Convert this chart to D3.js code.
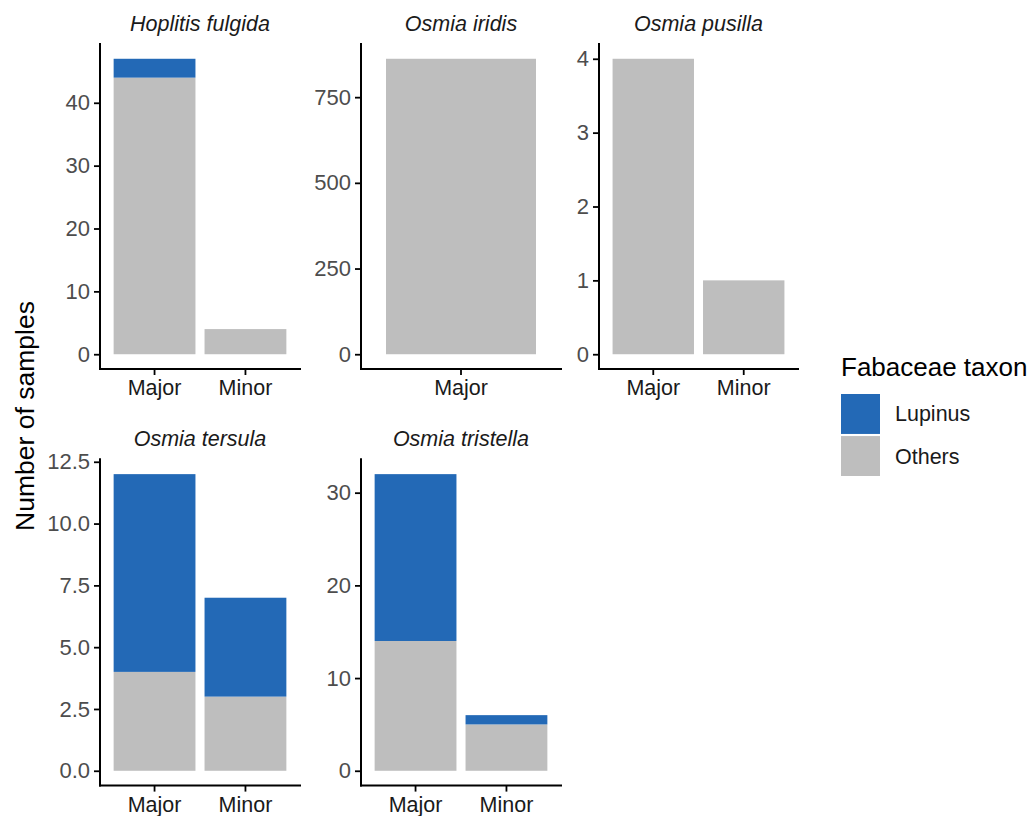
<!DOCTYPE html>
<html>
<head>
<meta charset="utf-8">
<script src="https://cdn.jsdelivr.net/npm/d3@7"></script>
<style>
  html, body { margin: 0; padding: 0; background: #ffffff; }
  svg { display: block; font-family: "Liberation Sans", Arial, Helvetica, sans-serif; }
</style>
</head>
<body>
<svg id="chart" width="1034" height="816"></svg>
<script>
// Bee species shown as facets, and the pollen-sample groups on each x axis
const species = ["Hoplitis fulgida", "Osmia iridis", "Osmia pusilla", "Osmia tersula", "Osmia tristella"];
const groups = [["Major", "Minor"], ["Major"], ["Major", "Minor"], ["Major", "Minor"], ["Major", "Minor"]];

// Number of samples per group, split by Fabaceae taxon
const othersCounts  = [[44, 4], [862], [4, 1], [4, 3], [14, 5]];
const lupinusCounts = [[3, 0], [0],   [0, 0], [8, 4], [18, 1]];

// Tick values on each facet's own y axis
const yTicks = [
  [0, 10, 20, 30, 40],
  [0, 250, 500, 750],
  [0, 1, 2, 3, 4],
  [0, 2.5, 5, 7.5, 10, 12.5],
  [0, 10, 20, 30]
];
const yTickFormats = ["d", "d", "d", ".1f", "d"];

const taxa = ["Lupinus", "Others"];
const taxonColors = ["#2369b6", "#bebebe"];

// Panel frames (plot area of each facet)
const cols = [[100, 300], [361, 561], [599, 798]];
const rows = [[44, 369], [459.3, 785.6]];

const svg = d3.select("#chart");
const color = d3.scaleOrdinal().domain(taxa).range(taxonColors);

species.forEach((name, i) => {
  const [x0, x1] = cols[i % 3];
  const [y0, y1] = rows[Math.floor(i / 3)];
  const cats = groups[i];

  const stacks = cats.map((g, j) => ({
    group: g,
    Others: othersCounts[i][j],
    Lupinus: lupinusCounts[i][j]
  }));
  const maxTotal = d3.max(stacks, d => d.Others + d.Lupinus);

  const x = d3.scaleBand().domain(cats).range([x0, x1])
    .paddingInner(0.1).paddingOuter(0.15);
  const y = d3.scaleLinear().domain([-0.05 * maxTotal, 1.05 * maxTotal]).range([y1, y0]);

  const g = svg.append("g");

  // Stacked bars: Others at the bottom, Lupinus on top
  const series = d3.stack().keys(["Others", "Lupinus"])(stacks);
  series.forEach(s => {
    g.append("g").attr("fill", color(s.key))
      .selectAll("rect").data(s).join("rect")
      .attr("x", d => x(d.data.group))
      .attr("width", x.bandwidth())
      .attr("y", d => y(d[1]))
      .attr("height", d => Math.max(0, y(d[0]) - y(d[1])));
  });

  // y axis
  const yAxis = d3.axisLeft(y).tickValues(yTicks[i]).tickFormat(d3.format(yTickFormats[i]))
    .tickSize(6).tickSizeOuter(0).tickPadding(4);
  const ya = g.append("g").attr("transform", `translate(${x0},0)`).call(yAxis);
  ya.select(".domain").attr("d", `M0,${y1}V${y0}`).attr("stroke", "#000").attr("stroke-width", 2)
    .attr("stroke-linecap", "square");
  ya.selectAll(".tick line").attr("stroke", "#000").attr("stroke-width", 1.8);
  ya.selectAll(".tick text").attr("fill", "#4d4d4d").style("font-size", "22px")
    .style("font-family", "Liberation Sans, Arial, sans-serif");

  // x axis
  const xAxis = d3.axisBottom(x).tickSize(6).tickSizeOuter(0).tickPadding(5);
  const xa = g.append("g").attr("transform", `translate(0,${y1})`).call(xAxis);
  xa.select(".domain").attr("d", `M${x0},0H${x1}`).attr("stroke", "#000").attr("stroke-width", 2)
    .attr("stroke-linecap", "square");
  xa.selectAll(".tick line").attr("stroke", "#000").attr("stroke-width", 1.8);
  xa.selectAll(".tick text").attr("fill", "#1a1a1a").style("font-size", "21.5px")
    .style("font-family", "Liberation Sans, Arial, sans-serif");

  // facet strip title
  g.append("text")
    .attr("x", (x0 + x1) / 2)
    .attr("y", y0 - 13)
    .attr("text-anchor", "middle")
    .style("font-size", "21.5px")
    .style("font-style", "italic")
    .attr("fill", "#1a1a1a")
    .text(name);
});

// shared y-axis title
svg.append("text")
  .attr("transform", "translate(34,416) rotate(-90)")
  .attr("text-anchor", "middle")
  .style("font-size", "26.5px")
  .attr("fill", "#000")
  .text("Number of samples");

// legend
const legend = svg.append("g").attr("transform", "translate(841,0)");
legend.append("text")
  .attr("x", 0).attr("y", 376)
  .style("font-size", "26px")
  .attr("fill", "#000")
  .text("Fabaceae taxon");

const keyY = d3.scaleBand().domain(taxa).range([394, 476]).paddingInner(0.05);
legend.selectAll("rect.key").data(taxa).join("rect")
  .attr("class", "key")
  .attr("x", 0)
  .attr("y", d => keyY(d))
  .attr("width", 39)
  .attr("height", keyY.bandwidth())
  .attr("fill", d => color(d));
legend.selectAll("text.lab").data(taxa).join("text")
  .attr("class", "lab")
  .attr("x", 54)
  .attr("y", d => keyY(d) + keyY.bandwidth() / 2)
  .attr("dy", "0.35em")
  .style("font-size", "21.5px")
  .attr("fill", "#1a1a1a")
  .text(d => d);
</script>
</body>
</html>
